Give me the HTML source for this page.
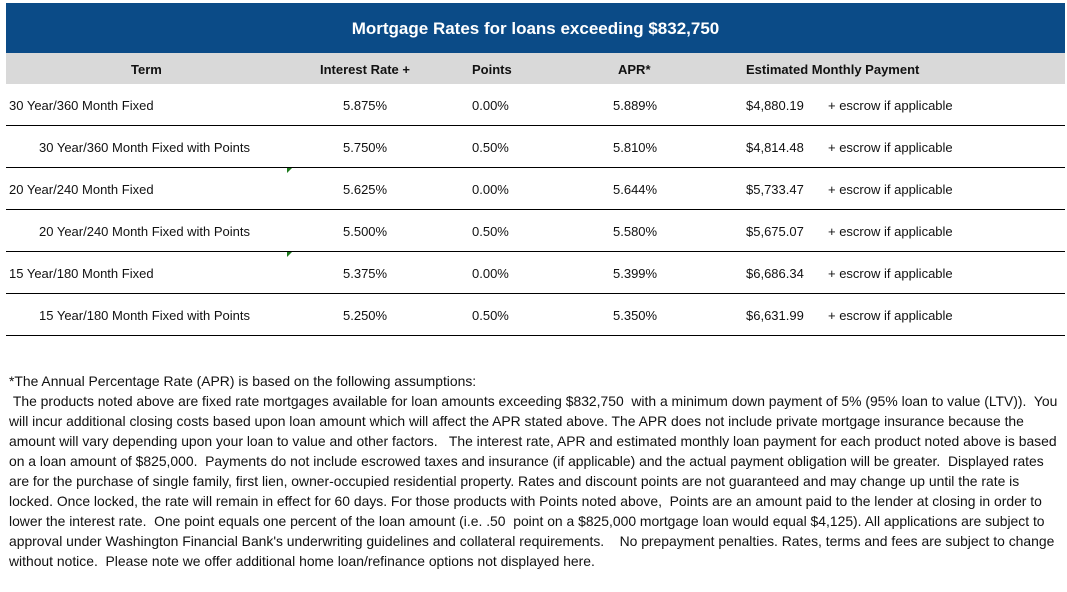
<!DOCTYPE html>
<html><head><style>
body{margin:0;width:1067px;height:592px;background:#fff;font-family:"Liberation Sans",sans-serif;color:#111;position:relative;overflow:hidden}
.t{position:absolute;white-space:nowrap;font-size:13px;line-height:16px}
.hd{position:absolute;left:6px;top:3px;width:1059px;height:50px;background:#0b4b87;color:#fff;font-weight:bold;font-size:17px;text-align:center;line-height:52px}
.gr{position:absolute;left:6px;top:53px;width:1059px;height:31px;background:#d9d9d9}
.ln{position:absolute;left:6px;width:1059px;height:1px;background:#000}
.b{font-weight:bold}
.n{position:absolute;left:9px;font-size:13.9px;line-height:20px;white-space:nowrap;top:371px}
.tri{position:absolute;width:0;height:0;border-top:5px solid #1d7a1d;border-right:5px solid transparent}
</style></head><body>
<div class="hd">Mortgage Rates for loans exceeding $832,750</div>
<div class="gr"></div>
<div class="t b" style="left:131px;top:62px">Term</div>
<div class="t b" style="left:320px;top:62px">Interest Rate +</div>
<div class="t b" style="left:472px;top:62px">Points</div>
<div class="t b" style="left:618px;top:62px">APR*</div>
<div class="t b" style="left:746px;top:62px">Estimated Monthly Payment</div>

<div class="t" style="left:9px;top:98px">30 Year/360 Month Fixed</div>
<div class="t" style="left:39px;top:140px">30 Year/360 Month Fixed with Points</div>
<div class="t" style="left:9px;top:182px">20 Year/240 Month Fixed</div>
<div class="t" style="left:39px;top:224px">20 Year/240 Month Fixed with Points</div>
<div class="t" style="left:9px;top:266px">15 Year/180 Month Fixed</div>
<div class="t" style="left:39px;top:308px">15 Year/180 Month Fixed with Points</div>

<div class="t" style="left:343px;top:98px">5.875%</div>
<div class="t" style="left:343px;top:140px">5.750%</div>
<div class="t" style="left:343px;top:182px">5.625%</div>
<div class="t" style="left:343px;top:224px">5.500%</div>
<div class="t" style="left:343px;top:266px">5.375%</div>
<div class="t" style="left:343px;top:308px">5.250%</div>

<div class="t" style="left:472px;top:98px">0.00%</div>
<div class="t" style="left:472px;top:140px">0.50%</div>
<div class="t" style="left:472px;top:182px">0.00%</div>
<div class="t" style="left:472px;top:224px">0.50%</div>
<div class="t" style="left:472px;top:266px">0.00%</div>
<div class="t" style="left:472px;top:308px">0.50%</div>

<div class="t" style="left:613px;top:98px">5.889%</div>
<div class="t" style="left:613px;top:140px">5.810%</div>
<div class="t" style="left:613px;top:182px">5.644%</div>
<div class="t" style="left:613px;top:224px">5.580%</div>
<div class="t" style="left:613px;top:266px">5.399%</div>
<div class="t" style="left:613px;top:308px">5.350%</div>

<div class="t" style="left:746px;top:98px">$4,880.19</div>
<div class="t" style="left:746px;top:140px">$4,814.48</div>
<div class="t" style="left:746px;top:182px">$5,733.47</div>
<div class="t" style="left:746px;top:224px">$5,675.07</div>
<div class="t" style="left:746px;top:266px">$6,686.34</div>
<div class="t" style="left:746px;top:308px">$6,631.99</div>

<div class="t" style="left:828px;top:98px">+ escrow if applicable</div>
<div class="t" style="left:828px;top:140px">+ escrow if applicable</div>
<div class="t" style="left:828px;top:182px">+ escrow if applicable</div>
<div class="t" style="left:828px;top:224px">+ escrow if applicable</div>
<div class="t" style="left:828px;top:266px">+ escrow if applicable</div>
<div class="t" style="left:828px;top:308px">+ escrow if applicable</div>

<div class="ln" style="top:125px"></div>
<div class="ln" style="top:167px"></div>
<div class="ln" style="top:209px"></div>
<div class="ln" style="top:251px"></div>
<div class="ln" style="top:293px"></div>
<div class="ln" style="top:335px"></div>
<div class="tri" style="left:287px;top:168px"></div>
<div class="tri" style="left:287px;top:252px"></div>

<div class="n">*The Annual Percentage Rate (APR) is based on the following assumptions:<br>
&nbsp;The products noted above are fixed rate mortgages available for loan amounts exceeding $832,750&nbsp; with a minimum down payment of 5% (95% loan to value (LTV)).&nbsp; You<br>
will incur additional closing costs based upon loan amount which will affect the APR stated above. The APR does not include private mortgage insurance because the<br>
amount will vary depending upon your loan to value and other factors.&nbsp;&nbsp; The interest rate, APR and estimated monthly loan payment for each product noted above is based<br>
on a loan amount of $825,000.&nbsp; Payments do not include escrowed taxes and insurance (if applicable) and the actual payment obligation will be greater.&nbsp; Displayed rates<br>
are for the purchase of single family, first lien, owner-occupied residential property. Rates and discount points are not guaranteed and may change up until the rate is<br>
locked. Once locked, the rate will remain in effect for 60 days. For those products with Points noted above,&nbsp; Points are an amount paid to the lender at closing in order to<br>
lower the interest rate.&nbsp; One point equals one percent of the loan amount (i.e. .50&nbsp; point on a $825,000 mortgage loan would equal $4,125). All applications are subject to<br>
approval under Washington Financial Bank's underwriting guidelines and collateral requirements.&nbsp;&nbsp;&nbsp; No prepayment penalties. Rates, terms and fees are subject to change<br>
without notice.&nbsp; Please note we offer additional home loan/refinance options not displayed here.</div>
</body></html>
